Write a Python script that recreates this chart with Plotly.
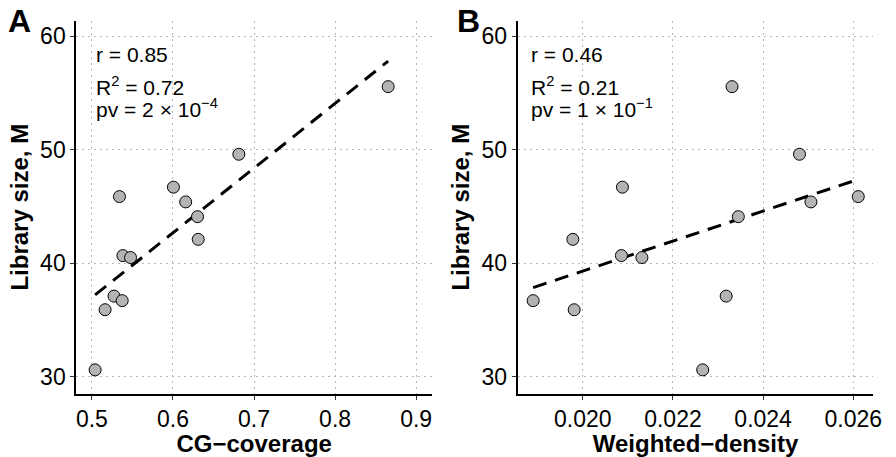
import numpy as np
import plotly.graph_objects as go

# ---- data ----
library_size = [55.56, 49.6, 45.87, 46.7, 45.4, 44.1, 42.1, 40.67, 40.5, 37.1, 36.7, 35.9, 30.6]
cg_coverage = [0.8655, 0.6813, 0.534, 0.6006, 0.6157, 0.6303, 0.6312, 0.5383, 0.5477, 0.5273, 0.5374, 0.5163, 0.504]
weighted_density = [0.02331, 0.024806, 0.02611, 0.02088, 0.02506, 0.02345, 0.01978, 0.020857, 0.021312, 0.02318, 0.0189, 0.01981, 0.02266]

x_ticks_a = [0.5, 0.6, 0.7, 0.8, 0.9]
x_ticklabels_a = ["0.5", "0.6", "0.7", "0.8", "0.9"]
x_ticks_b = [0.020, 0.022, 0.024, 0.026]
x_ticklabels_b = ["0.020", "0.022", "0.024", "0.026"]
y_ticks = [30, 40, 50, 60]

stats_a = ["r = 0.85", "R<sup>2</sup> = 0.72", "pv = 2 × 10<sup>−4</sup>"]
stats_b = ["r = 0.46", "R<sup>2</sup> = 0.21", "pv = 1 × 10<sup>−1</sup>"]

FONT = "Liberation Sans, Arial, Helvetica, sans-serif"

fig = go.Figure()

def add_panel(xs, xaxis, yaxis):
    xs = np.array(xs)
    ys = np.array(library_size)
    slope, intercept = np.polyfit(xs, ys, 1)
    xl = np.array([xs.min(), xs.max()])
    fig.add_trace(go.Scatter(
        x=xl, y=slope * xl + intercept, mode="lines",
        line=dict(color="black", width=3, dash="14px,9px"),
        xaxis=xaxis, yaxis=yaxis, showlegend=False, hoverinfo="skip"))
    fig.add_trace(go.Scatter(
        x=xs, y=ys, mode="markers",
        marker=dict(size=12, color="#b3b3b3", line=dict(color="black", width=1)),
        xaxis=xaxis, yaxis=yaxis, showlegend=False))

add_panel(cg_coverage, "x", "y")
add_panel(weighted_density, "x2", "y2")

common_axis = dict(
    showline=True, linecolor="black", linewidth=2,
    ticks="outside", ticklen=4, tickwidth=1, tickcolor="#333333",
    showgrid=True, gridcolor="#b8b8b8", gridwidth=1, griddash="2px,4px",
    zeroline=False,
    tickfont=dict(family=FONT, size=23, color="black"),
)
title_font = dict(family=FONT, size=24, color="black")

y_dom = [1 - 393.7 / 457, 1 - 20.7 / 457]

fig.update_layout(
    width=896, height=457,
    margin=dict(l=0, r=0, t=0, b=0),
    paper_bgcolor="white", plot_bgcolor="white",
    font=dict(family=FONT, color="black"),
    xaxis=dict(common_axis, domain=[77 / 896, 436 / 896], range=[0.4808, 0.9197],
               tickvals=x_ticks_a, ticktext=x_ticklabels_a,
               title=dict(text="<b>CG−coverage</b>", font=title_font, standoff=6)),
    yaxis=dict(common_axis, domain=y_dom, range=[28.5, 61.37], tickvals=y_ticks,
               title=dict(text="<b>Library size, M</b>", font=title_font, standoff=5)),
    xaxis2=dict(common_axis, domain=[522.3 / 896, 881.3 / 896], range=[0.018556, 0.026446],
                tickvals=x_ticks_b, ticktext=x_ticklabels_b, anchor="y2",
                title=dict(text="<b>Weighted−density</b>", font=title_font, standoff=6)),
    yaxis2=dict(common_axis, domain=y_dom, range=[28.5, 61.37], tickvals=y_ticks, anchor="x2",
                title=dict(text="<b>Library size, M</b>", font=title_font, standoff=5)),
)

# stats text
ys_text = [54.5, 85.8, 107.5]
for stats, x0 in ((stats_a, 95), (stats_b, 534)):
    for t, yp in zip(stats, ys_text):
        fig.add_annotation(text=t, x=x0 / 896, y=1 - yp / 457, xref="paper", yref="paper",
                           xanchor="left", yanchor="middle", showarrow=False,
                           font=dict(family=FONT, size=21, color="black"))

# panel labels
for lab, x0 in (("A", 6), ("B", 459)):
    fig.add_annotation(text=f"<b>{lab}</b>", x=x0 / 896, y=1 - 21 / 457, xref="paper", yref="paper",
                       xanchor="left", yanchor="middle", showarrow=False,
                       font=dict(family=FONT, size=32, color="black"))

fig.write_html("out.html")
